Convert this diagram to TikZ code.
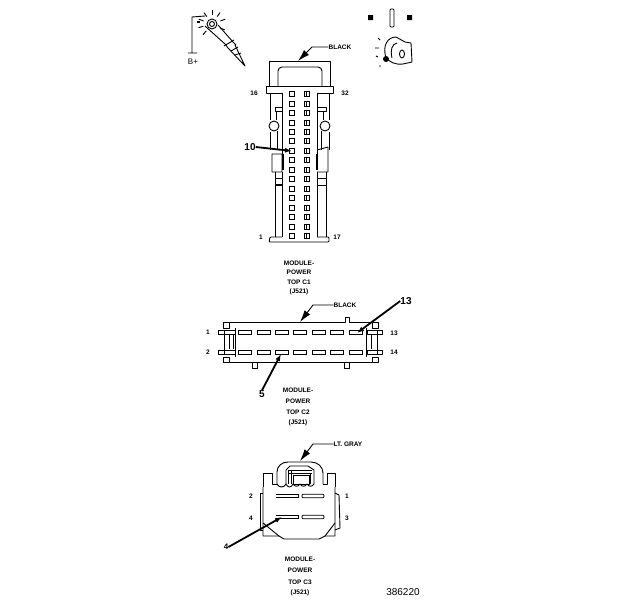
\documentclass[tikz,border=0pt]{standalone}
\usepackage{fontspec}
\setmainfont{Liberation Sans}
\usetikzlibrary{arrows.meta}
\tikzset{
	part/.style={line width=0.9pt,line join=round},
	heavy/.style={line width=1.4pt},
	leader/.style={line width=0.9pt,-{Latex[length=12pt,width=7pt]}},
	callout/.style={line width=1.8pt,-{Latex[length=7pt,width=5pt]}},
	txt/.style={font=\bfseries\fontsize{6.5}{7}\selectfont,inner sep=0pt},
	num/.style={font=\bfseries\fontsize{10}{11}\selectfont,inner sep=0pt}
}
\begin{document}
\begin{tikzpicture}[x=1pt,y=-1pt]
	\useasboundingbox(0,0)rectangle(624,600);
	% test light
	\draw[part](188,53)--(197,53)(192,53)--(192,17)--(205,16);
	\draw[heavy](197,22)--(200,22);
	\draw[part](212,24)circle(5)(212,24)circle(2.5);
	\draw[part](205,26)--(225,44)--(228,48)(218,25)--(233,42)--(236,45)(228,48)--(245,66)--(235,45);
	\draw[part](224,46)--(234,40)(231,51)--(238,47)(235,55)--(241,53);
	\foreach \a in {-160,-125,-90,-55,-20,25,130,165}{\draw[part]([shift={(\a:9)}]212,24)--([shift={(\a:14)}]212,24);}
	\node[txt,font=\fontsize{8}{9}\selectfont](bplus)at(193,62){B+};
	% top view of terminal
	\fill(368,15)rectangle(373,20)(407,15)rectangle(412,20);
	\draw[part,rounded corners=1pt](390,9)rectangle(394,27);
	\draw[part](386,58)..controls(382,45)and(388,37)..(396,37)--(405,42)--(411,43)--(412,62)--(403,64)..controls(395,65)and(390,62)..(386,58);
	\draw[part](392,58)..controls(390,50)and(392,44)..(397,43);
	\draw[part](402,54)ellipse(2.5 and 4);
	\fill(386,59)circle(3);
	\draw[part](378,38)--(380,40)(375,48)--(379,48)(376,56)--(378,57)(380,65)--(380,67);
	% connector C1
	\draw[part](282,93)--(266,93)--(266,86)--(333,86)--(333,93)--(317,93);
	\draw[part](269,86)--(269,61)--(330,61)--(330,86);
	\draw[part,rounded corners=4pt](278,86)--(278,67)--(322,67)--(322,86);
	\draw[part](270,93)--(270,120)(282,93)--(282,154)(276,111)--(276,120);
	\draw[part](329,93)--(329,120)(317,93)--(317,154)(323,111)--(323,120);
	\draw[part](282,107)--(275,107)--(275,111)--(282,111)(317,107)--(326,107)--(326,111)--(317,111);
	\draw[part](274,126)circle(5)(325,126)circle(5);
	\draw[part](277,131)--(277,150)(321,131)--(321,150)(270,132)--(270,150)(329,132)--(329,150);
	\draw[part](272,154)rectangle(282,172)(317,150)--(328,147)--(328,172)--(317,172);
	\draw[heavy](283,154)--(283,170)(317,154)--(317,170);
	\draw[part](275,172)--(275,237)(282,172)--(282,237)(317,172)--(317,237)(326,172)--(326,237);
	\draw[part](275,178)--(282,178)(317,178)--(326,178);
	\draw[part](275,185)--(282,185)(317,185)--(326,185)(275,184)--(282,184);
	\draw[part,rounded corners=1pt](282,237)--(270,237)--(269,242)--(329,242)--(329,237)--(317,237);
	\foreach \i in {0,...,15}{
		\draw[line width=0.8pt](289.5,94+9.47*\i-2.5)rectangle(294,94+9.47*\i+2.5);
		\draw[line width=0.8pt](304,94+9.47*\i-2.5)rectangle(309,94+9.47*\i+2.5)(306.5,94+9.47*\i-2.5)--(306.5,94+9.47*\i+2.5);
	}
	\node[txt](pa16)at(254,93){16};
	\node[txt](pa32)at(345,93){32};
	\node[txt](pa1)at(261,237){1};
	\node[txt](pa17)at(337,237){17};
	\node[txt](blackA)at(340,47){BLACK};
	\coordinate(bendA)at(312,47);
	\coordinate(tipA)at(298,61);
	\draw[leader](blackA.west)--(bendA)--(tipA);
	\node[num](tenA)at(250,147){10};
	\coordinate(pinA)at(292,151);
	\draw[callout](tenA.east)--(pinA);
	\foreach \t[count=\i] in {MODULE-,POWER,TOP C1,(J521)}{\node[txt](nameA\i)at(299,253+9.8*\i){\t};}
	% connector C2
	\draw[part](223,322)--(345,322)--(345,317)--(349,317)--(349,322)--(378,322)--(378,328)--(372,328);
	\draw[part](229,322)--(229,328)--(223,328)--(223,322);
	\draw[part](223,357)--(229,357)--(229,362)--(223,362)--cycle;
	\draw[part](372,357)--(378,357)--(378,362)--(229,362);
	\draw[part](372,322)--(372,328)(372,357)--(372,362);
	\draw[part](252,362)--(252,368)--(257,368)--(257,362)(344,362)--(344,368)--(349,368)--(349,362);
	\draw[part](235,328)--(235,357)(366,328)--(366,357);
	\draw[part](218,330)rectangle(235,334)(218,350)rectangle(235,354)(224,330)--(224,354)(233,335)--(233,349)(229,335)--(229,349);
	\draw[part](367,330)rectangle(382,334)(367,350)rectangle(382,354)(377,330)--(377,354)(371,335)--(371,349);
	\foreach \i in {0,...,6}{
		\draw[line width=0.8pt](238.5+18.4*\i,330)rectangle(251.5+18.4*\i,334);
		\draw[line width=0.8pt](238.5+18.4*\i,350)rectangle(251.5+18.4*\i,354);
	}
	\node[txt](pb1)at(208,332){1};
	\node[txt](pb2)at(208,352){2};
	\node[txt](pb13)at(394,333){13};
	\node[txt](pb14)at(394,352){14};
	\node[txt](blackB)at(345,305){BLACK};
	\coordinate(bendB)at(313,305);
	\coordinate(tipB)at(300,322);
	\draw[leader](blackB.west)--(bendB)--(tipB);
	\node[num](thirteenB)at(406,301){13};
	\coordinate(pinB)at(357,333);
	\draw[callout](thirteenB.west)--(pinB);
	\node[num](fiveB)at(262,394){5};
	\coordinate(slotB)at(281,354);
	\draw[callout](fiveB.north)--(slotB);
	\foreach \t[count=\i] in {MODULE-,POWER,TOP C2,(J521)}{\node[txt](nameB\i)at(298,379+11*\i){\t};}
	% connector C3
	\draw[part](277,484)--(277,472)..controls(277,466)and(282,462)..(288,462)--(311,462)..controls(318,462)and(323,467)..(323,473)--(323,484);
	\draw[part](286,484)--(286,470)--(290,466)--(308,466)--(314,470)--(314,484);
	\draw[part](288,484)--(288,470)(291,484)--(291,470)(288,470)--(312,470)(288,473)--(312,473);
	\draw[part](293,475)rectangle(309,484)(310,474)--(310,484);
	\draw[part](263,487)--(263,473)--(272,473)--(272,484)--(277,484);
	\draw[part](335,487)--(335,473)--(327,473)--(327,484)--(323,484);
	\draw[part](277,484)..controls(279,488)and(284,488)..(286,484)(286,484)..controls(288,488)and(291,488)..(293,484);
	\draw[part](293,484)..controls(295,487)and(298,487)..(300,484)..controls(302,487)and(305,487)..(307,484)..controls(309,487)and(312,487)..(314,484);
	\draw[part](263,487)--(263,536)--(279,536)--(284,539)--(319,539)--(325,536)--(335,536)--(335,487);
	\draw[part](263,523)--(279,536)(335,523)--(325,536);
	\draw[part](263,493)--(260,493)--(260,530)--(263,530);
	\draw[part](335,493)--(339,495)--(340,528)--(335,530);
	\foreach \y in {496,517}{
		\draw[line width=0.8pt](276,\y-1.8)--(298,\y-1.8)--(298,\y+1.8)--(276,\y+1.8);
		\draw[line width=0.8pt,rounded corners=1pt](302,\y-1.8)rectangle(324,\y+1.8);
	}
	\node[txt](pc2)at(251,496){2};
	\node[txt](pc1)at(347,496){1};
	\node[txt](pc4)at(251,518){4};
	\node[txt](pc3)at(347,518){3};
	\node[txt](grayC)at(348,444){LT. GRAY};
	\coordinate(bendC)at(313,444);
	\coordinate(tipC)at(300,461);
	\draw[leader](grayC.west)--(bendC)--(tipC);
	\node[num,font=\bfseries\fontsize{8}{9}\selectfont](fourC)at(226,547){4};
	\coordinate(slotC)at(282,517);
	\draw[callout](fourC.east)--(slotC);
	\foreach \t[count=\i] in {MODULE-,POWER,TOP C3,(J521)}{\node[txt](nameC\i)at(300,548+11.3*\i){\t};}
	\node[inner sep=0pt,font=\fontsize{10}{11}\selectfont](figno)at(403,592){386220};
\end{tikzpicture}
\end{document}
